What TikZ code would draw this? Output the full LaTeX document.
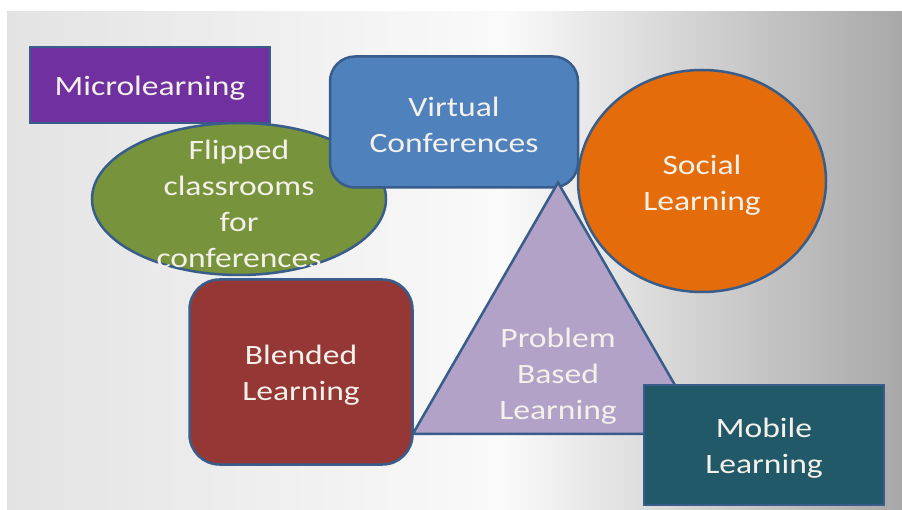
\documentclass[tikz,border=0pt]{standalone}
\usepackage{fontspec}
\setmainfont{Carlito}[FakeStretch=1.2]
\usetikzlibrary{shapes.geometric}
\definecolor{edge}{HTML}{385D8A}
\definecolor{micro}{HTML}{7030A0}
\definecolor{virtual}{HTML}{4F81BD}
\definecolor{flipped}{HTML}{77933C}
\definecolor{social}{HTML}{E46C0A}
\definecolor{problem}{HTML}{B3A2C7}
\definecolor{blended}{HTML}{953735}
\definecolor{mobile}{HTML}{215968}
\definecolor{txtcol}{HTML}{F4F1EA}

\begin{document}
\begin{tikzpicture}[x=1pt, y=-1pt,
    shapebox/.style={draw=edge, line width=2.5pt, inner sep=0pt},
    lbl/.style={text=txtcol, font=\fontsize{28}{36}\selectfont, align=center, inner sep=0pt, yshift=-3pt}]
    % slide background
    \useasboundingbox (0,0) rectangle (902,510);
    \fill[white] (0,0) rectangle (902,510);
    \begin{scope}
        \clip (7,12) rectangle (902,510);
        \shade[left color=black!11, right color=black!42, middle color=black!2] (7,12) rectangle (1000,510);
    \end{scope}

    \node[shapebox, fill=micro, minimum width=240, minimum height=76,
        label={[lbl]center:Microlearning}] (micro) at (150,85) {};
    \node[shapebox, fill=flipped, ellipse, minimum width=294, minimum height=152,
        label={[lbl, yshift=-2pt]center:{Flipped\\classrooms\\for\\conferences}}] (flip) at (239,199) {};
    \node[shapebox, fill=virtual, rounded corners=25pt, minimum width=248, minimum height=131,
        label={[lbl]center:{Virtual\\Conferences}}] (vc) at (454,122) {};
    \node[shapebox, fill=social, ellipse, minimum width=248, minimum height=222,
        label={[lbl, yshift=-1pt]center:{Social\\Learning}}] (soc) at (702,181) {};
    \node[shapebox, fill=problem, regular polygon, regular polygon sides=3, minimum size=335,
        label={[lbl, yshift=-23pt]center:{Problem\\Based\\Learning}}] (pbl) at (558,350) {};
    \node[shapebox, fill=blended, rounded corners=30pt, minimum width=223, minimum height=185,
        label={[lbl]center:{Blended\\Learning}}] (blend) at (301,372) {};
    \node[shapebox, fill=mobile, minimum width=240, minimum height=120,
        label={[lbl]center:{Mobile\\Learning}}] (mob) at (764,445) {};
\end{tikzpicture}
\end{document}
